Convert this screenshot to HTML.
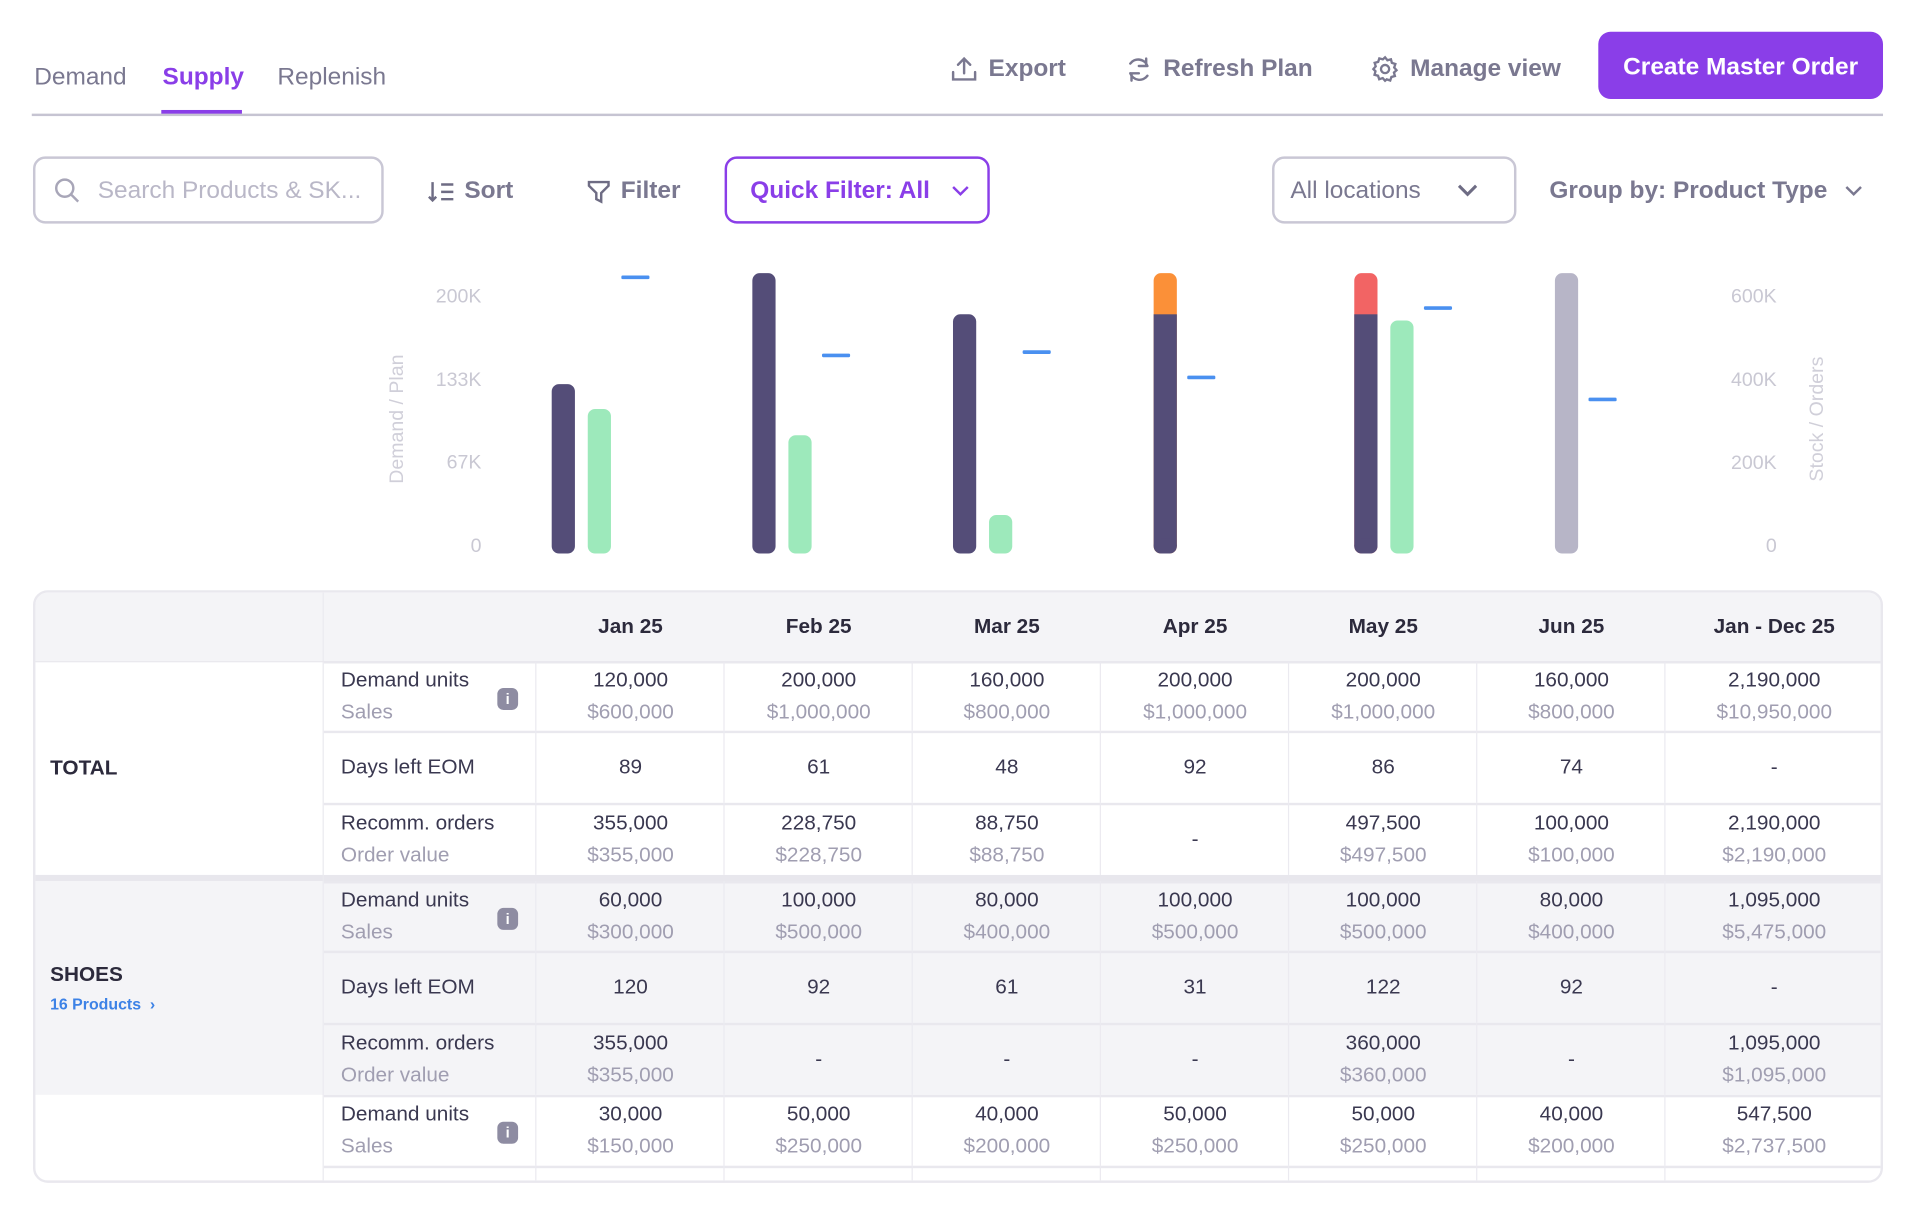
<!DOCTYPE html>
<html><head><meta charset="utf-8">
<style>
html,body{margin:0;padding:0;background:#fff;width:1916px;height:1216px;overflow:hidden}
body{font-family:"Liberation Sans",sans-serif;}
#wrap{position:absolute;left:0;top:0;width:1568px;height:995px;transform:scale(1.22194);transform-origin:0 0;}
.abs{position:absolute;white-space:nowrap}
.tab{font-size:20px;color:#7a7890;top:52px}
.act{font-size:20px;color:#7a7890;font-weight:bold;top:45px;display:flex;align-items:center;gap:9px}
.box{position:absolute;border:2px solid #c9c7d5;border-radius:10px;box-sizing:border-box}
.tbl{position:absolute;left:27px;top:483px;width:1514px;height:485px;border:2px solid #e9e8ee;border-radius:12px;box-sizing:border-box;overflow:hidden}
.cell{position:absolute;box-sizing:border-box;display:flex;flex-direction:column;justify-content:center;align-items:center;font-size:17px;color:#3a3850;line-height:26px}
.cell .s{color:#a09eb1}
.lab{align-items:flex-start;padding-left:14px}
.info{position:absolute;left:142px;width:17px;height:18px;border-radius:5px;background:#8e8ca2;color:#fff;font-size:12px;font-weight:bold;text-align:center;line-height:18px}
</style></head><body>
<div id="wrap">
 <div class="abs tab" style="left:28px">Demand</div>
 <div class="abs tab" style="left:133px;color:#8a3ee8;font-weight:bold">Supply</div>
 <div class="abs" style="left:132px;top:90px;width:66px;height:4px;background:#8a3ee8"></div>
 <div class="abs tab" style="left:227px">Replenish</div>
 <div class="abs" style="left:26px;top:93px;width:1515px;height:2px;background:#c6c4d2"></div>

 <div class="abs act" style="left:778px"><svg width="22" height="22" viewBox="0 0 22 22" fill="none" stroke="#7a7890" stroke-width="2" stroke-linecap="round"><path d="M11 14V2M6 7l5-5 5 5M2 13v6h18v-6"/></svg>Export</div>
 <div class="abs act" style="left:921px"><svg width="22" height="22" viewBox="0 0 22 22" fill="none" stroke="#7a7890" stroke-width="2" stroke-linecap="round"><path d="M18 8a8 8 0 0 0-14-2M4 14a8 8 0 0 0 14 2M17 2v6h-6M5 20v-6h6"/></svg>Refresh Plan</div>
 <div class="abs act" style="left:1122px"><svg width="23" height="23" viewBox="0 0 24 24" fill="none" stroke="#7a7890" stroke-width="2"><circle cx="12" cy="12" r="3.5"/><path d="M12 2l2 2.5 3-.8.8 3 3 1-1 3 2 2.3-2.2 2 .8 3-3 .8-1 3-3-1L12 22l-2-2.3-3 1-1-3-3-.8.8-3L2 12l2-2.3-.9-3 3-.8 1-3 3 .8z"/></svg>Manage view</div>
 <div class="abs" style="left:1308px;top:26px;width:233px;height:55px;border-radius:10px;background:#8a3ee8;color:#fff;font-size:20px;font-weight:bold;text-align:center;line-height:58px">Create Master Order</div>

 <div class="box" style="left:27px;top:128px;width:287px;height:55px">
  <svg class="abs" style="left:15px;top:15px" width="22" height="22" viewBox="0 0 22 22" fill="none" stroke="#a8a6b8" stroke-width="2"><circle cx="9" cy="9" r="7"/><path d="M14 14l6 6"/></svg>
  <div class="abs" style="left:51px;top:15px;font-size:20px;color:#b9b7c7">Search Products &amp; SK...</div></div>
 <div class="abs act" style="left:350px;top:145px;gap:8px"><svg width="22" height="18" viewBox="0 0 22 18" fill="none" stroke="#6e6c84" stroke-width="2"><path d="M4 1v15M1 13l3 3 3-3M11 3h10M11 9h10M11 15h10"/></svg>Sort</div>
 <div class="abs act" style="left:480px;top:145px;gap:8px"><svg width="20" height="20" viewBox="0 0 20 20" fill="none" stroke="#6e6c84" stroke-width="2"><path d="M2 2h16v3l-6 6v7l-4-2v-5L2 5z"/></svg>Filter</div>
 <div class="box" style="left:593px;top:128px;width:217px;height:55px;border-color:#8a3ee8">
  <div class="abs" style="left:19px;top:15px;font-size:20px;font-weight:bold;color:#8a3ee8">Quick Filter: All</div>
  <svg class="abs" style="left:184px;top:22px" width="14" height="9" viewBox="0 0 14 9" fill="none" stroke="#8a3ee8" stroke-width="2"><path d="M1 1l6 6 6-6"/></svg></div>
 <div class="box" style="left:1041px;top:128px;width:200px;height:55px">
  <div class="abs" style="left:13px;top:15px;font-size:20px;color:#7a7890">All locations</div>
  <svg class="abs" style="left:150px;top:21px" width="16" height="10" viewBox="0 0 16 10" fill="none" stroke="#6e6c84" stroke-width="2.5"><path d="M1 1l7 7 7-7"/></svg></div>
 <div class="abs" style="left:1268px;top:145px;font-size:20px;font-weight:bold;color:#7a7890">Group by: Product Type</div>
 <svg class="abs" style="left:1510px;top:152px" width="14" height="9" viewBox="0 0 14 9" fill="none" stroke="#7a7890" stroke-width="2"><path d="M1 1l6 6 6-6"/></svg>

 <svg id="chart" class="abs" style="left:0;top:200px" width="1568" height="270"></svg>

 <div class="tbl" id="tbl"></div>
</div>
<script>
// chart data (K units)
const months = ["Jan 25","Feb 25","Mar 25","Apr 25","May 25","Jun 25"];
const demandVals = [133, 222, 189, 189, 189, 222];
const overflowVals = [0, 0, 0, 33, 33, 0];
const overflowColors = ["", "", "", "#fb9038", "#f26464", ""];
const planVals = [113, 92, 28, null, 184, null];
const stockVals = [656, 468, 476, 415, 582, 362];
const leftTicks = [0, 67, 133, 200];
const leftTickLabels = ["0","67K","133K","200K"];
const rightTicks = [0, 200, 400, 600];
const rightTickLabels = ["0","200K","400K","600K"];
const NS = "http://www.w3.org/2000/svg";
const svg = document.getElementById("chart");
const OY = 200;
const zeroY = 450 - OY;
function yL(v){ return zeroY - v * 1.02; }
function yR(v){ return zeroY - v * 0.34; }
function xBand(i){ return 461 + i * 164.2; }
function mk(tag, attrs){ const e = document.createElementNS(NS, tag); for (const k in attrs) e.setAttribute(k, attrs[k]); svg.appendChild(e); return e; }
leftTicks.forEach((t, i) => {
  const e = mk("text", {x:394, y:yL(t)-2.5, "text-anchor":"end", "font-size":16, fill:"#c9c8d3", "dominant-baseline":"middle"});
  e.textContent = leftTickLabels[i];
  
  
});
rightTicks.forEach((t, i) => {
  const e = mk("text", {x:1454, y:yR(t)-2.5, "text-anchor":"end", "font-size":16, fill:"#c9c8d3", "dominant-baseline":"middle"});
  e.textContent = rightTickLabels[i];
  
  
});
const tl = mk("text", {x:0, y:0, transform:"translate(330,143) rotate(-90)", "text-anchor":"middle", "font-size":16, fill:"#d0cfd9"});
tl.textContent = "Demand / Plan";


const tr = mk("text", {x:0, y:0, transform:"translate(1492,143) rotate(-90)", "text-anchor":"middle", "font-size":16, fill:"#d0cfd9"});
tr.textContent = "Stock / Orders";


const W = 19, bottom = zeroY + 3;
function bar(x, yTop, color, name){
  const e = mk("rect", {x:x - W/2, y:yTop, width:W, height:Math.max(0, bottom - yTop), rx:6, fill:color});
  
  
  return e;
}
months.forEach((m, i) => {
  const x = xBand(i);
  const gray = i === months.length - 1;
  const total = demandVals[i] + overflowVals[i];
  if (overflowVals[i] > 0) {
    bar(x, yL(total), overflowColors[i], 'overflow-bar');
    const r = mk("rect", {x:x - W/2, y:yL(demandVals[i]), width:W, height:bottom - yL(demandVals[i]) - 6, fill:"#544d78"});
    
    
    const r2 = mk("rect", {x:x - W/2, y:bottom - 12, width:W, height:12, rx:6, fill:"#544d78"});
    
    
  } else {
    bar(x, yL(demandVals[i]), gray ? "#b7b5c7" : "#544d78", 'demand-bar');
  }
  let next = x + 29.5;
  if (planVals[i] !== null) { bar(next, yL(planVals[i]), "#9de9bb", 'plan-bar'); next += 29.5; }
  const s = mk("rect", {x:next - 11.5, y:yR(stockVals[i]) - 1.5, width:23, height:3, rx:1, fill:"#4a90f0"});
  
  
});

// table
const tbl = document.getElementById("tbl");
const colX = [0, 236, 410, 564, 718, 872, 1026, 1180, 1334, 1512];
const heads = ["Jan 25","Feb 25","Mar 25","Apr 25","May 25","Jun 25","Jan - Dec 25"];
function div(css, html, name, inter){
  const d = document.createElement("div");
  d.style.cssText = css; d.innerHTML = html;
  
  
  tbl.appendChild(d); return d;
}
div("position:absolute;left:0;top:0;width:1512px;height:56px;background:#f4f4f7", "", "table-header-row", false);
heads.forEach((h, i) => {
  const c = div(`left:${colX[i+2]}px;top:0;width:${colX[i+3]-colX[i+2]}px;height:56px;font-weight:bold;color:#2c2a3c`, h, "column-header", true);
  c.className = "cell";
});
const rows = [
 {top:56,h:57,bg:"#fff",lab:["Demand units","Sales"],info:true,v:[["120,000","$600,000"],["200,000","$1,000,000"],["160,000","$800,000"],["200,000","$1,000,000"],["200,000","$1,000,000"],["160,000","$800,000"],["2,190,000","$10,950,000"]]},
 {top:113,h:59,bg:"#fff",lab:["Days left EOM"],v:[["89"],["61"],["48"],["92"],["86"],["74"],["-"]]},
 {top:172,h:59,bg:"#fff",lab:["Recomm. orders","Order value"],v:[["355,000","$355,000"],["228,750","$228,750"],["88,750","$88,750"],["-"],["497,500","$497,500"],["100,000","$100,000"],["2,190,000","$2,190,000"]]},
 {top:236,h:57,bg:"#f4f4f7",lab:["Demand units","Sales"],info:true,v:[["60,000","$300,000"],["100,000","$500,000"],["80,000","$400,000"],["100,000","$500,000"],["100,000","$500,000"],["80,000","$400,000"],["1,095,000","$5,475,000"]]},
 {top:293,h:59,bg:"#f4f4f7",lab:["Days left EOM"],v:[["120"],["92"],["61"],["31"],["122"],["92"],["-"]]},
 {top:352,h:59,bg:"#f4f4f7",lab:["Recomm. orders","Order value"],v:[["355,000","$355,000"],["-"],["-"],["-"],["360,000","$360,000"],["-"],["1,095,000","$1,095,000"]]},
 {top:411,h:58,bg:"#fff",lab:["Demand units","Sales"],info:true,v:[["30,000","$150,000"],["50,000","$250,000"],["40,000","$200,000"],["50,000","$250,000"],["50,000","$250,000"],["40,000","$200,000"],["547,500","$2,737,500"]]},
 {top:469,h:20,bg:"#fff",lab:[],v:[[],[],[],[],[],[],[]]}
];
div("position:absolute;left:0;top:231px;width:1512px;height:5px;background:#e8e7ed", "", "group-separator", false);
div("position:absolute;left:0;top:236px;width:236px;height:175px;background:#f4f4f7", "", "shoes-group-bg", false);
rows.forEach(r => {
  div(`position:absolute;left:236px;top:${r.top}px;width:1276px;height:${r.h}px;background:${r.bg};border-top:2px solid #e9e8ee;box-sizing:border-box`, "", "table-row", false);
  for (let i = 1; i < 9; i++) {
    div(`position:absolute;left:${colX[i+1]-1}px;top:${r.top}px;width:1px;height:${r.h}px;background:#ebeaf0`, "", "column-divider", false);
  }
  if (r.lab.length) {
    const l = div(`left:236px;top:${r.top}px;width:174px;height:${r.h}px`, r.lab.map((t,k)=>`<div class="${k? 's':''}">${t}</div>`).join(""), "row-label", false);
    l.className = "cell lab";
    if (r.info) { const ic = document.createElement("div"); ic.className = "info"; ic.style.top = (r.h/2 - 7) + "px"; ic.textContent = "i";   l.appendChild(ic); }
  }
  r.v.forEach((vv, i) => {
    const c = div(`left:${colX[i+2]}px;top:${r.top}px;width:${colX[i+3]-colX[i+2]}px;height:${r.h}px`, vv.map((t,k)=>`<div class="${k? 's':''}">${t}</div>`).join(""), "table-cell", false);
    c.className = "cell";
  });
});
div("position:absolute;left:0;top:0;width:236px;height:489px;border-right:1px solid #ebeaf0;box-sizing:border-box", "", "group-column-border", false);
div("position:absolute;left:0;top:56px;width:1512px;height:1px;background:#e9e8ee", "", "header-border", false);
div("position:absolute;left:12px;top:134px;font-size:17px;font-weight:bold;color:#2c2a3c", "TOTAL", "total-group-label", false);
div("position:absolute;left:12px;top:303px;font-size:17px;font-weight:bold;color:#2c2a3c", "SHOES", "shoes-group-label", false);
div("position:absolute;left:12px;top:329px;font-size:13px;font-weight:bold;color:#3d82e6", "16 Products &nbsp;›", "shoes-products-link", true);
</script>
</body></html>
